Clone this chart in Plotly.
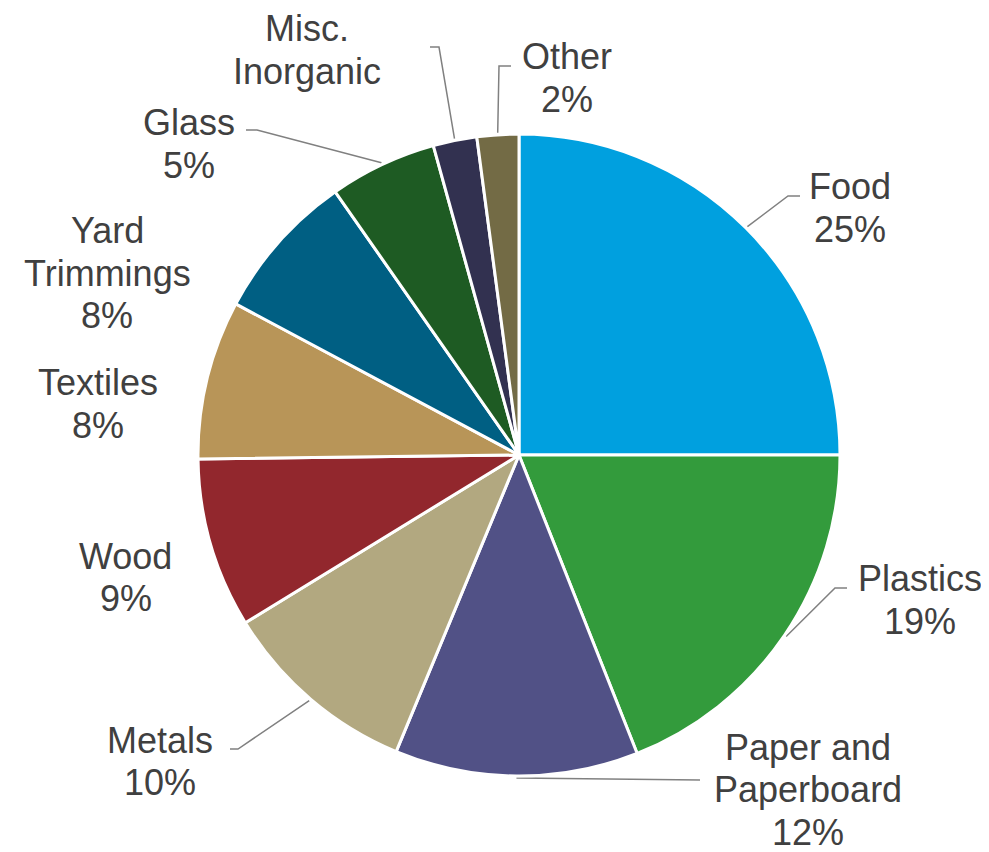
import math
import plotly.graph_objects as go

# ---- data ----
categories = ["Food", "Plastics", "Paper and<br>Paperboard", "Metals", "Wood",
              "Textiles", "Yard<br>Trimmings", "Glass", "Misc.<br>Inorganic", "Other"]
values = [25.0, 19.0, 12.25, 10.0, 8.55, 8.0, 7.5, 5.4, 2.2, 2.1]
pct_labels = ["25%", "19%", "12%", "10%", "9%", "8%", "8%", "5%", "", "2%"]

# ---- styles / layout (pixel positions in the page window) ----
colors = ["#00A0DF", "#339B3C", "#515186", "#B2A880", "#92272D",
          "#B89558", "#005F83", "#1E5B23", "#323150", "#736B45"]
W, H = 989, 852
OFF = 8                      # page body margin
CX, CY, R = 519, 455, 321    # pie centre / radius (window pixels)
LINE_H = 42.5
FONT = dict(family="Liberation Sans, Arial", size=36, color="#404040")
# label block centers (window pixels)
label_pos = [(850, 208), (920, 600), (808, 789.5), (160, 761.5), (125.5, 577.5),
             (98, 404), (107, 273), (189, 144), (307, 50), (566.5, 78)]
# leader line: elbow and end points (None = no leader line)
leaders = [((788, 196), (800, 196)),
           ((835, 588), (847, 588)),
           ((700, 780), None),
           ((238, 749), (230, 749)),
           None, None, None,
           ((257, 130), (246, 130)),
           ((439, 47), (430, 47)),
           ((499, 66), (511, 66))]

def px(x):
    return x - OFF

def py(y):
    return y - OFF

fig = go.Figure()

cxp, cyp = px(CX), py(CY)
fig.add_trace(go.Pie(
    values=values, labels=categories, sort=False, direction="clockwise", rotation=0,
    marker=dict(colors=colors, line=dict(color="white", width=3)),
    textinfo="none", hoverinfo="none", showlegend=False,
    domain=dict(x=[(cxp - R) / W, (cxp + R) / W], y=[1 - (cyp + R) / H, 1 - (cyp - R) / H]),
))

# leader lines computed from slice mid-angles
total = sum(values)
lx, ly = [], []
cum = 0.0
for v, ld in zip(values, leaders):
    mid = (cum + v / 2) / total * 2 * math.pi
    cum += v
    if ld is None:
        continue
    sx = CX + (R + 2) * math.sin(mid)
    sy = CY - (R + 2) * math.cos(mid)
    pts = [(sx, sy)] + [p for p in ld if p is not None]
    for p in pts:
        lx.append(px(p[0])); ly.append(py(p[1]))
    lx.append(None); ly.append(None)

fig.add_trace(go.Scatter(x=lx, y=ly, mode="lines", line=dict(color="#808080", width=1.5),
                         hoverinfo="skip", showlegend=False))

for cat, pct, (x, y) in zip(categories, pct_labels, label_pos):
    lines = cat.split("<br>") + ([pct] if pct else [])
    n = len(lines)
    for i, t in enumerate(lines):
        yy = y + (i - (n - 1) / 2) * LINE_H
        fig.add_annotation(x=px(x), y=py(yy), xref="x", yref="y", text=t,
                           showarrow=False, align="center", font=FONT, borderpad=0)

fig.update_layout(
    width=W, height=H, margin=dict(l=0, r=0, t=0, b=0),
    paper_bgcolor="white", plot_bgcolor="white",
    xaxis=dict(range=[0, W], visible=False, fixedrange=True, domain=[0, 1]),
    yaxis=dict(range=[H, 0], visible=False, fixedrange=True, domain=[0, 1]),
)

fig.write_html("out.html")
